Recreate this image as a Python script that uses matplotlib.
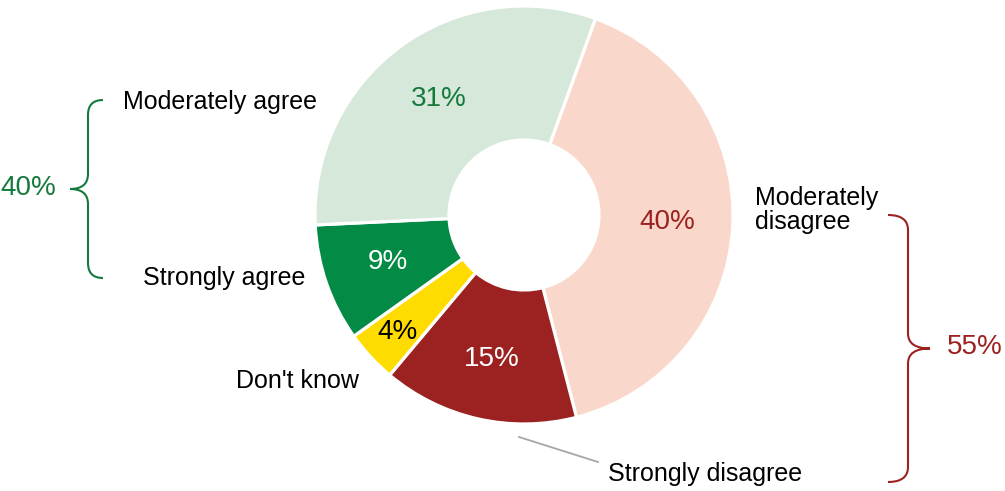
import numpy as np
import matplotlib.pyplot as plt
from matplotlib.path import Path
from matplotlib.patches import PathPatch

plt.rcParams['font.family'] = ['Liberation Sans', 'DejaVu Sans']

# data, in clockwise order starting near the top
categories = ["Moderately disagree", "Strongly disagree", "Don't know", "Strongly agree", "Moderately agree"]
shares = [40, 15, 4, 9, 31]
pct_labels = ["40%", "15%", "4%", "9%", "31%"]
group_labels = ["40%", "55%"]   # agree total, disagree total

colors = ["#f9d8cb", "#9b2220", "#ffdc00", "#038b45", "#d6e8d9"]
pct_colors = ["#9b2220", "white", "black", "white", "#137a3c"]
green_txt = "#137a3c"
red_txt = "#9b2220"

W, H = 1005, 491
fig = plt.figure(figsize=(W / 100, H / 100), dpi=100)
ax = fig.add_axes([0, 0, 1, 1])
ax.set_xlim(0, W)
ax.set_ylim(0, H)
ax.set_aspect('equal')
ax.axis('off')

def py(y):
    # pixel y (top down) -> axes y
    return H - y

cx, cy, R, r_in = 524, 215, 209, 75
wedges, _ = ax.pie(shares, colors=colors, startangle=70, counterclock=False,
                   center=(cx, py(cy)), radius=R, frame=True,
                   wedgeprops=dict(width=R - r_in, edgecolor='white', linewidth=2.3))
ax.set_xlim(0, W)
ax.set_ylim(0, H)
ax.axis('off')

# percent labels inside the ring
rad = [143, 148, 172, 144, 144]
for w, lab, col, rr in zip(wedges, pct_labels, pct_colors, rad):
    a = np.deg2rad((w.theta1 + w.theta2) / 2)
    ax.text(cx + rr * np.cos(a), py(cy) + rr * np.sin(a), lab, color=col,
            fontsize=20, ha='center', va='center')

# category labels
ax.text(123, py(102), "Moderately agree", fontsize=18, ha='left', va='center')
ax.text(143, py(278), "Strongly agree", fontsize=18, ha='left', va='center')
ax.text(236, py(381), "Don't know", fontsize=18, ha='left', va='center')
ax.text(755, py(210), "Moderately\ndisagree", fontsize=18, ha='left', va='center',
        linespacing=1.05)
ax.text(608, py(474), "Strongly disagree", fontsize=18, ha='left', va='center')
ax.plot([519, 598], [py(437), py(462)], color="#a6a6a6", lw=1.3)


def brace(x_end, x_line, x_tip, y_top, y_bot, color, c=15):
    y_mid = (y_top + y_bot) / 2
    s = 1 if x_tip > x_line else -1
    verts = [
        (x_end, y_top), (x_line, y_top), (x_line, y_top + c),
        (x_line, y_mid - c), (x_line, y_mid), (x_tip, y_mid),
        (x_line, y_mid), (x_line, y_mid + c),
        (x_line, y_bot - c), (x_line, y_bot), (x_end, y_bot),
    ]
    codes = [Path.MOVETO, Path.CURVE3, Path.CURVE3,
             Path.LINETO, Path.CURVE3, Path.CURVE3,
             Path.CURVE3, Path.CURVE3,
             Path.LINETO, Path.CURVE3, Path.CURVE3]
    verts = [(x, py(y)) for x, y in verts]
    ax.add_patch(PathPatch(Path(verts, codes), fill=False, edgecolor=color, lw=1.5))


brace(103, 88, 70, 100, 278, green_txt)
ax.text(56, py(188), group_labels[0], color=green_txt, fontsize=20, ha='right', va='center')

brace(888, 908, 930, 215, 482, red_txt)
ax.text(947, py(347), group_labels[1], color=red_txt, fontsize=20, ha='left', va='center')

fig.savefig("out.png", dpi=100)
